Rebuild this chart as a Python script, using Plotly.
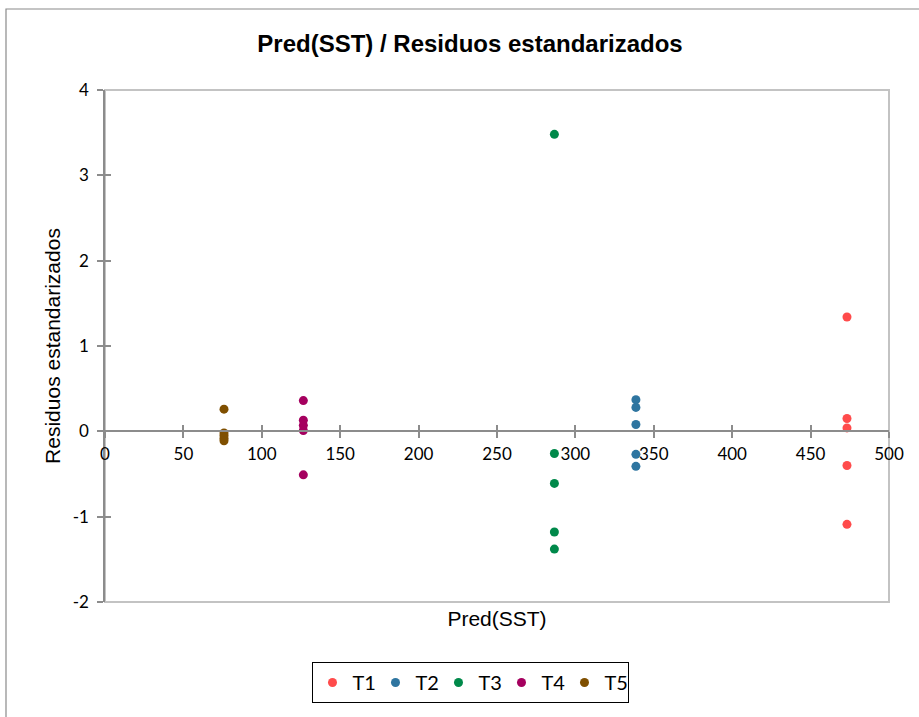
import plotly.graph_objects as go

# ---- data ----
groups = ["T1", "T2", "T3", "T4", "T5"]
colors = ["#FF4B4B", "#2E75A0", "#00894A", "#A5005F", "#7F4F00"]

pred_T1 = [473.2, 473.2, 473.2, 473.2, 473.2]
res_T1 = [1.34, 0.15, 0.04, -0.40, -1.09]

pred_T2 = [338.6, 338.6, 338.6, 338.6, 338.6]
res_T2 = [0.37, 0.28, 0.08, -0.27, -0.41]

pred_T3 = [286.6, 286.6, 286.6, 286.6, 286.6]
res_T3 = [3.48, -0.26, -0.61, -1.18, -1.38]

pred_T4 = [126.5, 126.5, 126.5, 126.5, 126.5]
res_T4 = [0.36, 0.13, 0.07, 0.01, -0.51]

pred_T5 = [75.9, 75.9, 75.9, 75.9, 75.9]
res_T5 = [0.26, -0.02, -0.05, -0.08, -0.11]

preds = [pred_T1, pred_T2, pred_T3, pred_T4, pred_T5]
resids = [res_T1, res_T2, res_T3, res_T4, res_T5]

x_range = [0, 500]
y_range = [-2, 4]
y_tick_vals = [-2, -1, 0, 1, 2, 3, 4]
y_tick_text = ["-2", "-1", "0", "1", "2", "3", "4"]

fig = go.Figure()
for name, col, xs, ys in zip(groups, colors, preds, resids):
    fig.add_trace(go.Scatter(
        x=xs, y=ys, mode="markers", name=name,
        marker=dict(color=col, size=9, line=dict(width=0)),
        xaxis="x", yaxis="y",
    ))

# invisible helper traces so overlay axes render
for xa, ya in [("x2", "y"), ("x3", "y"), ("x", "y2")]:
    fig.add_trace(go.Scatter(x=[None], y=[None], xaxis=xa, yaxis=ya,
                             showlegend=False, hoverinfo="skip", mode="markers"))

W, H = 919, 717
L, R, T, B = 105, 30, 90, 115
pw, ph = W - L - R, H - T - B
axis_grey = "#8C8C8C"
tick_font = dict(family="Lato", size=17, color="#000000")
zero_pos = (0 - y_range[0]) / (y_range[1] - y_range[0])

fig.update_layout(
    width=W, height=H,
    margin=dict(l=L, r=R, t=T, b=B),
    paper_bgcolor="white", plot_bgcolor="white",
    title=dict(text="<b>Pred(SST) / Residuos estandarizados</b>",
               font=dict(family="Liberation Sans", size=24, color="#000000"),
               x=(470 - L) / pw, xref="paper", xanchor="center",
               y=1 - 44 / H, yref="container", yanchor="middle"),
    xaxis=dict(range=x_range, showline=False, showgrid=False, zeroline=False,
               showticklabels=False, ticks="",
               title=dict(text="Pred(SST)", standoff=9,
                          font=dict(family="Liberation Sans", size=21, color="#000000"))),
    xaxis2=dict(range=x_range, overlaying="x", anchor="free", position=zero_pos,
                showline=True, linecolor=axis_grey, linewidth=1.5,
                showgrid=False, zeroline=False,
                ticks="outside", ticklen=6, tickcolor=axis_grey, tickwidth=1.5,
                tickmode="linear", tick0=0, dtick=50,
                tickfont=tick_font, ticklabelstandoff=2),
    xaxis3=dict(range=x_range, overlaying="x", anchor="free", position=zero_pos,
                showline=False, showgrid=False, zeroline=False,
                ticks="inside", ticklen=6, tickcolor=axis_grey, tickwidth=1.5,
                tickmode="linear", tick0=0, dtick=50, showticklabels=False),
    yaxis=dict(range=y_range, showline=True, linecolor=axis_grey, linewidth=1.5,
               showgrid=False, zeroline=False, automargin=True,
               ticks="outside", ticklen=6, tickcolor=axis_grey, tickwidth=1.5,
               tickmode="array", tickvals=y_tick_vals, ticktext=y_tick_text,
               tickfont=tick_font, ticklabelstandoff=5,
               title=dict(text="Residuos estandarizados", standoff=6,
                          font=dict(family="Liberation Sans", size=21, color="#000000"))),
    yaxis2=dict(range=y_range, overlaying="y", anchor="x",
                showline=False, showgrid=False, zeroline=False,
                ticks="inside", ticklen=6, tickcolor=axis_grey, tickwidth=1.5,
                tickmode="array", tickvals=y_tick_vals, showticklabels=False),
    legend=dict(orientation="h", x=(470 - L) / pw, xanchor="center",
                y=(ph - (662 - T)) / ph, yanchor="top",
                bordercolor="#000000", borderwidth=1, bgcolor="white",
                font=dict(family="Lato", size=20, color="#000000"),
                itemwidth=30, entrywidth=18, entrywidthmode="pixels"),
    showlegend=True,
    shapes=[
        # plot-area box
        dict(type="rect", xref="paper", yref="paper", x0=0, x1=1, y0=0, y1=1,
             line=dict(color="#C3C3C3", width=2), layer="below"),
        # outer chart frame
        dict(type="rect", xref="paper", yref="paper",
             x0=(6 - L) / pw, x1=1.2, y0=-0.4, y1=(ph + T - 9) / ph,
             line=dict(color="#8A8A8A", width=1.2), layer="below"),
    ],
)

fig.write_html("out.html", config={"displayModeBar": False},
               post_script="document.body.style.margin='0px';")
